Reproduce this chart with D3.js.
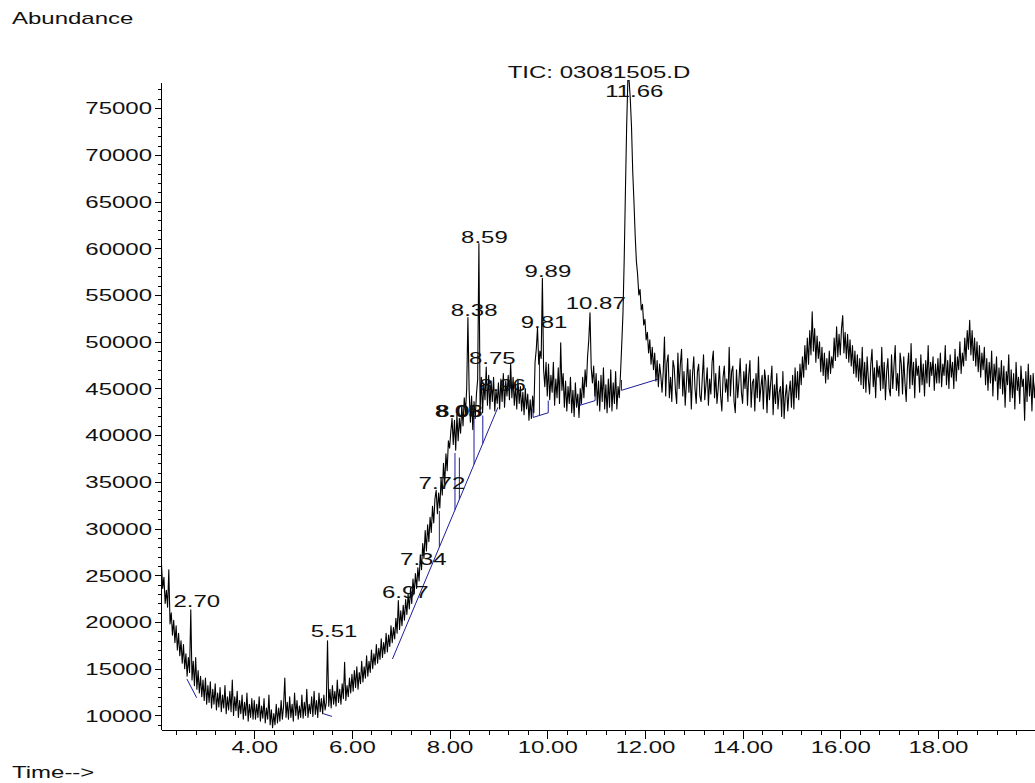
<!DOCTYPE html>
<html>
<head>
<meta charset="utf-8">
<title>TIC: 03081505.D</title>
<script src="https://d3js.org/d3.v7.min.js"></script>
<style>
  body { margin: 0; background: #fff; }
  svg text { font-family: Arial, "Liberation Sans", sans-serif; font-size: 16px; fill: #111; }
  .trace { fill: none; stroke: #000; stroke-width: 1.1; stroke-linejoin: round; }
  .integ { fill: none; stroke: #1c1c9c; stroke-width: 1; }
  .axis path, .axis line { stroke: #000; shape-rendering: crispEdges; }
</style>
</head>
<body>
<script>
var width = 1035,
    height = 783;
var stretch = 1.5; // the source print is stretched sideways, text too

// TIC trace, one reading every 0.025 min, in thousands of counts
var step = 0.025;
var segStart = [2.10, 4.00, 6.00, 8.00, 10.00, 12.00, 14.00, 16.00, 18.00];
var tic02 = [26.2, 23.6, 24.8, 22.0, 23.4, 21.6, 25.6, 19.8, 21.0, 18.6,
             20.2, 17.8, 19.6, 17.0, 18.8, 16.4, 18.0, 15.6, 17.6, 15.0,
             16.6, 14.2, 16.2, 14.6, 21.3, 13.8, 15.8, 13.2, 16.2, 12.8,
             14.8, 12.4, 14.2, 12.0, 13.8, 11.6, 14.0, 11.2, 13.2, 11.4,
             13.6, 10.8, 12.8, 11.2, 13.4, 10.6, 12.4, 10.9, 13.0, 10.4,
             12.2, 10.8, 13.2, 10.2, 12.0, 10.6, 12.6, 10.4, 13.8, 10.0,
             12.0, 10.5, 12.6, 9.8, 11.6, 10.2, 12.2, 9.6, 11.4, 10.0,
             12.4, 9.4, 11.2, 9.8, 11.8, 9.6];
var tic04 = [11.6, 9.6, 11.2, 9.8, 12.0, 9.4, 11.0, 9.7, 11.8, 9.2,
             10.8, 9.6, 12.2, 9.0, 10.6, 8.7, 10.2, 9.0, 11.2, 9.2,
             10.8, 9.4, 11.6, 9.6, 11.0, 14.0, 9.8, 11.4, 9.6, 12.0,
             9.8, 11.2, 9.4, 12.4, 10.0, 11.6, 9.6, 11.0, 9.8, 12.2,
             9.7, 11.4, 10.0, 12.8, 9.8, 11.2, 10.2, 12.0, 9.9, 12.6,
             10.1, 11.6, 9.8, 12.4, 10.4, 11.8, 10.2, 12.2, 10.6, 11.4,
             18.0, 11.0, 12.8, 10.8, 13.2, 11.2, 12.6, 11.0, 13.8, 11.4,
             12.8, 11.2, 13.4, 11.8, 15.7, 11.6, 13.2, 12.0, 14.0, 12.4];
var tic06 = [14.4, 12.6, 14.8, 13.0, 15.2, 12.8, 14.6, 13.4, 15.8, 13.6,
             15.2, 14.0, 16.4, 14.2, 15.8, 14.6, 17.0, 15.0, 16.6, 15.4,
             17.6, 15.6, 17.2, 16.0, 18.2, 16.2, 17.8, 16.6, 18.8, 16.8,
             18.6, 17.4, 19.6, 17.8, 19.4, 18.2, 20.4, 18.8, 22.3, 19.2,
             21.2, 19.6, 21.8, 20.2, 22.4, 20.8, 23.0, 21.4, 23.6, 22.0,
             24.6, 23.0, 25.2, 23.6, 25.8, 24.4, 27.2, 25.6, 28.4, 26.8,
             29.8, 27.6, 30.4, 28.6, 31.2, 29.6, 32.4, 30.6, 33.2, 34.1,
             31.6, 33.8, 32.2, 35.4, 33.6, 37.0, 34.8, 38.0, 36.2, 39.4];
var tic08 = [38.6, 40.4, 41.8, 39.0, 41.6, 38.4, 42.2, 39.4, 41.8, 40.2,
             43.2, 41.0, 44.0, 42.4, 45.0, 52.6, 44.8, 41.4, 44.2, 40.6,
             43.6, 41.8, 44.4, 46.0, 60.5, 42.6, 46.2, 42.4, 45.6, 43.8,
             47.3, 43.2, 46.4, 42.8, 45.8, 43.6, 46.2, 42.6, 44.8, 43.4,
             45.6, 42.8, 46.0, 43.6, 46.6, 43.0, 45.8, 44.2, 46.4, 43.8,
             47.7, 44.0, 46.2, 43.2, 45.4, 42.8, 46.0, 43.4, 45.2, 42.6,
             44.6, 42.2, 45.0, 42.8, 44.4, 41.6, 43.8, 41.8, 44.2, 42.4,
             47.8, 49.2, 51.5, 47.6, 49.0, 48.2, 56.8, 47.0, 45.2, 47.8];
var tic10 = [44.2, 47.6, 43.8, 46.4, 44.6, 47.8, 43.2, 46.0, 44.0, 47.2,
             43.4, 49.9, 44.8, 46.6, 43.0, 45.8, 42.6, 45.2, 43.4, 46.2,
             42.4, 44.8, 42.0, 45.6, 43.0, 44.4, 41.9, 45.0, 43.4, 46.2,
             44.0, 47.0, 45.2, 48.4, 50.2, 53.1, 47.2, 45.6, 47.4, 44.2,
             46.6, 43.2, 45.8, 42.6, 46.4, 43.6, 47.2, 42.8, 45.4, 42.4,
             46.0, 43.0, 47.0, 42.6, 45.6, 43.4, 46.8, 42.8, 45.2, 44.0,
             46.6, 49.7, 53.0, 58.7, 66.0, 72.9, 78.0, 78.0, 76.0, 73.0,
             68.2, 65.0, 61.4, 58.6, 57.2, 55.0, 55.6, 53.4, 54.0, 51.8];
var tic12 = [52.4, 50.2, 51.0, 48.8, 50.2, 47.6, 49.4, 47.0, 48.8, 45.8,
             48.0, 45.2, 47.6, 46.4, 44.6, 46.8, 50.5, 44.2, 47.8, 48.6,
             44.0, 46.2, 43.6, 48.0, 47.2, 44.8, 43.4, 48.8, 45.0, 47.6,
             49.2, 44.2, 46.8, 43.2, 45.6, 48.2, 44.6, 47.0, 42.8, 46.6,
             48.4, 45.0, 43.4, 46.8, 47.6, 44.2, 43.6, 46.2, 48.6, 43.8,
             45.4, 47.2, 43.2, 46.0, 44.4, 47.8, 49.0, 44.0, 46.6, 43.4,
             45.0, 47.4, 44.2, 42.6, 46.2, 47.4, 44.6, 46.0, 43.6, 49.4,
             44.2, 46.8, 47.4, 43.6, 42.4, 47.0, 44.0, 45.8, 48.2, 44.6];
var tic14 = [43.4, 46.8, 45.0, 47.6, 43.2, 46.4, 48.0, 43.0, 45.6, 46.0,
             42.6, 46.6, 44.0, 48.4, 43.6, 45.2, 46.4, 42.8, 47.0, 45.8,
             42.4, 46.4, 43.8, 45.6, 47.4, 42.2, 45.4, 43.4, 46.6, 42.8,
             44.6, 45.2, 42.0, 46.8, 41.8, 44.2, 45.4, 42.6, 44.6, 45.8,
             43.0, 46.4, 42.8, 47.2, 44.0, 46.8, 43.8, 47.6, 45.4, 48.4,
             46.2, 49.6, 47.0, 50.4, 47.6, 51.2, 48.6, 53.2, 49.0, 51.4,
             47.8, 50.6, 48.2, 50.0, 46.8, 49.4, 46.4, 48.8, 45.6, 48.2,
             46.0, 49.0, 46.6, 48.4, 47.2, 50.4, 48.0, 51.6, 48.4, 50.8];
var tic16 = [48.6, 51.4, 52.8, 48.8, 51.0, 48.2, 50.8, 47.8, 50.2, 47.4,
             49.6, 46.6, 49.0, 46.2, 48.6, 45.8, 48.2, 45.4, 49.4, 45.0,
             47.8, 44.6, 48.4, 46.0, 44.4, 47.6, 49.2, 45.2, 47.2, 44.0,
             48.0, 46.2, 47.4, 44.8, 49.4, 45.0, 47.8, 43.8, 46.8, 48.2,
             45.0, 44.2, 48.6, 45.0, 47.4, 49.6, 44.8, 46.6, 44.2, 48.8,
             47.6, 44.4, 48.4, 45.6, 43.6, 47.2, 48.8, 45.0, 49.8, 45.4,
             47.8, 44.0, 48.2, 46.4, 47.4, 44.6, 48.6, 45.4, 47.6, 44.2,
             48.0, 45.6, 49.6, 45.2, 47.8, 46.4, 48.4, 44.8, 47.6, 45.6];
var tic18 = [48.2, 45.6, 48.8, 45.2, 47.6, 46.4, 49.6, 45.4, 48.0, 45.0,
             48.6, 46.2, 47.8, 45.0, 49.2, 45.8, 48.4, 47.0, 50.0, 46.6,
             48.8, 47.4, 50.4, 48.0, 51.2, 49.2, 52.3, 48.6, 51.2, 48.0,
             50.4, 47.4, 50.0, 46.8, 49.6, 46.2, 48.8, 47.0, 49.4, 45.4,
             48.2, 44.8, 47.8, 45.6, 49.0, 44.2, 47.6, 45.8, 48.4, 43.8,
             47.2, 45.0, 48.0, 44.4, 47.4, 43.0, 46.8, 45.4, 48.6, 43.6,
             47.0, 44.0, 46.6, 42.8, 47.8, 44.8, 46.2, 43.4, 47.4, 45.2,
             46.0, 41.6, 46.8, 43.6, 47.6, 44.2, 46.4, 42.6, 46.6, 44.0,
             45.8];

// labelled peaks (retention time) and where the label sits, thousands
var peakNames = ["2.70", "5.51", "6.97", "7.34", "7.72", "8.05", "8.08", "8.38",
                 "8.59", "8.75", "8.96", "9.81", "9.89", "10.87", "11.66"];
var peakLabelAt = [21.6, 18.4, 22.6, 26.1, 34.2, 41.9, 41.9, 52.8,
                   60.6, 47.6, 44.7, 51.5, 56.9, 53.5, 76.2];

// integration baselines (start/end time and abundance, thousands)
var baseT0 = [2.62, 5.41, 6.83, 9.71, 10.67, 11.52];
var baseA0 = [13.9, 10.2, 16.05, 41.9, 43.2, 44.8];
var baseT1 = [2.82, 5.59, 8.99, 10.02, 10.98, 12.27];
var baseA1 = [11.9, 9.9, 42.98, 42.4, 43.7, 46.0];
// drop lines from the baseline up to the trace
var dropT = [7.79, 8.11, 8.20, 8.50, 8.68, 9.71, 9.84, 10.02, 10.67, 10.98, 11.52, 12.27];
var dropTop = [31.9, 38.1, 37.6, 41.9, 42.1, 42.8, 48.5, 43.7, 44.0, 45.1, 45.9, 46.6];

var segs = [tic02, tic04, tic06, tic08, tic10, tic12, tic14, tic16, tic18];
var trace = [];
segs.forEach(function(seg, s){
  seg.forEach(function(v, i){
    trace.push({ t: segStart[s] + i * step, a: v * 1000 });
  });
});

var svg = d3.select("body")
  .append("svg")
  .attr("width", width)
  .attr("height", height);

var x = d3.scaleLinear().domain([2.09, 20.0]).range([161, 1035.6]);
var y = d3.scaleLinear().domain([8500, 77800]).range([729.5, 82]);

svg.append("clipPath").attr("id", "plot")
  .append("rect")
  .attr("x", 161).attr("y", 80)
  .attr("width", width - 161).attr("height", 729.5 - 80);

// axes: major + minor ticks
function cleanAxis(g){
  g.attr("font-size", null).attr("font-family", null).attr("class", "axis");
}

svg.append("g")
  .attr("transform", "translate(161,0)")
  .call(d3.axisLeft(y).tickValues(d3.range(9000, 77001, 1000)).tickSize(3).tickSizeOuter(0).tickFormat(""))
  .call(cleanAxis)
  .select(".domain").remove();

var yAxis = svg.append("g")
  .attr("transform", "translate(161,0)")
  .call(d3.axisLeft(y).tickValues(d3.range(10000, 75001, 5000)).tickSize(6).tickSizeOuter(0).tickFormat(d3.format("d")))
  .call(cleanAxis);
yAxis.selectAll("text")
  .attr("x", -6)
  .attr("dy", "0.36em")
  .attr("transform", "scale(" + stretch + ",1)");

svg.append("g")
  .attr("transform", "translate(0,729.5)")
  .call(d3.axisBottom(x).tickValues(d3.range(6, 50).map(function(k){ return k * 0.4; })).tickSize(5).tickSizeOuter(0).tickFormat(""))
  .call(cleanAxis)
  .select(".domain").remove();

var xAxis = svg.append("g")
  .attr("transform", "translate(0,729.5)")
  .call(d3.axisBottom(x).tickValues(d3.range(4, 19, 2)).tickSize(9).tickSizeOuter(0).tickFormat(d3.format(".2f")))
  .call(cleanAxis);
xAxis.selectAll("text")
  .attr("y", 12)
  .attr("x", 0)
  .attr("text-anchor", "middle")
  .attr("transform", "scale(" + stretch + ",1)");

// integration marks
var integ = svg.append("g").attr("clip-path", "url(#plot)");
integ.selectAll("line.base")
  .data(baseT0)
  .enter()
  .append("line")
  .attr("class", "integ")
  .attr("x1", function(d){ return x(d); })
  .attr("y1", function(d, i){ return y(baseA0[i] * 1000); })
  .attr("x2", function(d, i){ return x(baseT1[i]); })
  .attr("y2", function(d, i){ return y(baseA1[i] * 1000); });

function baseAt(t){
  for (var i = 0; i < baseT0.length; i++) {
    if (t >= baseT0[i] - 0.001 && t <= baseT1[i] + 0.001) {
      var f = (t - baseT0[i]) / (baseT1[i] - baseT0[i]);
      return (baseA0[i] + f * (baseA1[i] - baseA0[i])) * 1000;
    }
  }
  return null;
}

integ.selectAll("line.drop")
  .data(dropT)
  .enter()
  .append("line")
  .attr("class", "integ")
  .attr("x1", function(d){ return x(d); })
  .attr("x2", function(d){ return x(d); })
  .attr("y1", function(d){ return y(baseAt(d)); })
  .attr("y2", function(d, i){ return y(dropTop[i] * 1000); });

// the trace
var line = d3.line()
  .x(function(d){ return x(d.t); })
  .y(function(d){ return y(d.a); });

svg.append("g").attr("clip-path", "url(#plot)")
  .append("path")
  .datum(trace)
  .attr("class", "trace")
  .attr("d", line);

// peak labels
svg.append("g").selectAll("text")
  .data(peakNames)
  .enter()
  .append("text")
  .attr("text-anchor", "middle")
  .attr("transform", function(d, i){
    return "translate(" + (x(+d) + 6) + "," + y(peakLabelAt[i] * 1000) + ") scale(" + stretch + ",1)";
  })
  .text(function(d){ return d; });

// titles
svg.append("text")
  .attr("transform", "translate(12,23.5) scale(" + stretch + ",1)")
  .text("Abundance");

svg.append("text")
  .attr("transform", "translate(12,778) scale(" + stretch + ",1)")
  .text("Time-->");

svg.append("text")
  .attr("text-anchor", "middle")
  .attr("transform", "translate(599,77.5) scale(" + stretch + ",1)")
  .text("TIC: 03081505.D");
</script>
</body>
</html>
